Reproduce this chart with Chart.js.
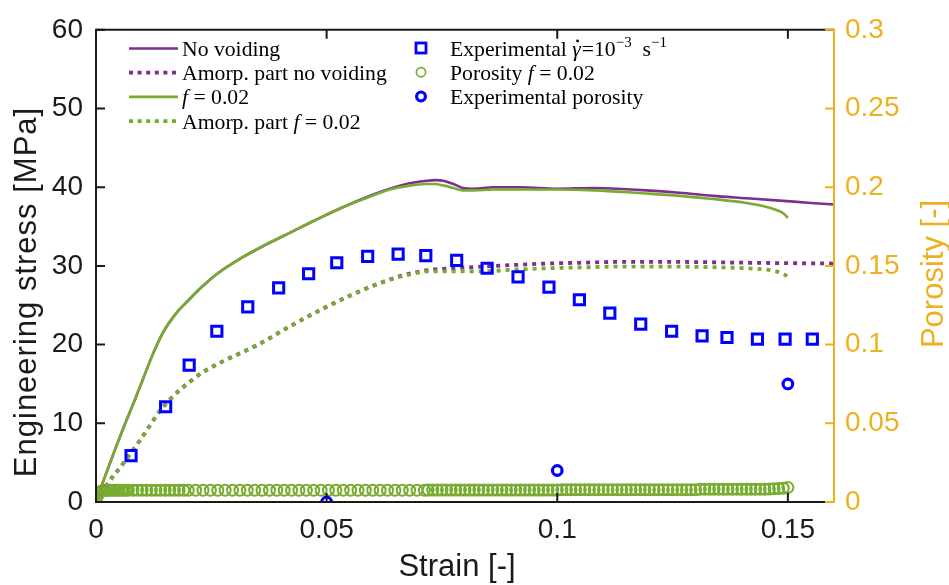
<!DOCTYPE html>
<html>
<head>
<meta charset="utf-8">
<script src="https://cdn.jsdelivr.net/npm/chart.js@4.4.1/dist/chart.umd.min.js"></script>
<style>
  html, body { margin: 0; padding: 0; background: #fff; }
  canvas { display: block; }
</style>
</head>
<body>
<canvas id="chart" width="949" height="585"></canvas>
<script>
// experimental stress-strain (squares)
const expStrain = [0.0076, 0.0151, 0.0202, 0.0262, 0.0329, 0.0396, 0.0461, 0.0522, 0.0589, 0.0655, 0.0715, 0.0782,
  0.0848, 0.0915, 0.0982, 0.1048, 0.1114, 0.1181, 0.1248, 0.1314, 0.1368, 0.1434, 0.1494, 0.1553];
const expStress = [5.9, 12.1, 17.4, 21.7, 24.8, 27.2, 29.0, 30.4, 31.2, 31.5, 31.3, 30.7,
  29.7, 28.6, 27.3, 25.7, 24.0, 22.6, 21.7, 21.1, 20.9, 20.7, 20.7, 20.7];

// experimental porosity (right axis)
const expPoroStrain = [0.05, 0.1, 0.15];
const expPoro = [0.0, 0.02, 0.075];

// simulation, no voiding
const nvStrain = [0, 0.001, 0.003, 0.006, 0.0085, 0.0103, 0.0122, 0.0138, 0.0152, 0.0165, 0.018, 0.02, 0.0225, 0.0265,
  0.0312, 0.0365, 0.042, 0.0475, 0.0529, 0.0585, 0.0637, 0.068, 0.0715, 0.0735, 0.0755, 0.0775, 0.0795, 0.082,
  0.086, 0.092, 0.1, 0.108, 0.1193, 0.1265, 0.1337, 0.141, 0.1482, 0.155, 0.16];
const nvStress = [0, 1.7, 4.9, 9.5, 13.1, 15.8, 18.6, 20.7, 22.2, 23.3, 24.4, 25.6, 27.1, 29.1,
  30.9, 32.6, 34.2, 35.8, 37.3, 38.7, 39.8, 40.5, 40.8, 40.9, 40.8, 40.4, 39.9, 39.8,
  40.0, 40.0, 39.8, 39.9, 39.6, 39.3, 38.9, 38.6, 38.3, 38.0, 37.8];
const nvAmStrain = [0, 0.002, 0.0059, 0.0095, 0.0139, 0.016, 0.0185, 0.0204, 0.0232, 0.0276, 0.0348, 0.042,
  0.0493, 0.0565, 0.0615, 0.0665, 0.0724, 0.078, 0.0832, 0.09, 0.0977, 0.105, 0.1121, 0.1266, 0.141, 0.15, 0.16];
const nvAmStress = [0, 1.9, 4.9, 7.8, 11.6, 13.0, 14.4, 15.3, 16.5, 17.9, 19.9, 22.3,
  24.6, 26.6, 27.8, 28.8, 29.5, 29.7, 29.9, 30.1, 30.3, 30.4, 30.5, 30.5, 30.4, 30.35, 30.3];

// simulation, f = 0.02
const fStrain = [0, 0.001, 0.003, 0.006, 0.0085, 0.0103, 0.0122, 0.0138, 0.0152, 0.0165, 0.018, 0.02, 0.0225, 0.0265,
  0.0312, 0.0365, 0.042, 0.0475, 0.0529, 0.0585, 0.0637, 0.068, 0.0715, 0.0735, 0.0755, 0.0775, 0.0795, 0.082,
  0.086, 0.092, 0.1, 0.108, 0.1193, 0.1265, 0.1337, 0.141, 0.1446, 0.1475, 0.149, 0.15];
const fStress = [0, 1.7, 4.9, 9.5, 13.1, 15.8, 18.6, 20.7, 22.2, 23.3, 24.4, 25.6, 27.1, 29.1,
  30.9, 32.6, 34.2, 35.8, 37.3, 38.6, 39.7, 40.2, 40.4, 40.4, 40.2, 39.9, 39.6, 39.6,
  39.7, 39.7, 39.7, 39.6, 39.2, 38.9, 38.5, 38.0, 37.6, 37.1, 36.7, 36.1];
const fAmStrain = [0, 0.002, 0.0059, 0.0095, 0.0139, 0.016, 0.0185, 0.0204, 0.0232, 0.0276, 0.0348, 0.042,
  0.0493, 0.0565, 0.0615, 0.0665, 0.0724, 0.078, 0.0832, 0.09, 0.0977, 0.105, 0.1121, 0.1266, 0.136, 0.141,
  0.1468, 0.1493, 0.15];
const fAmStress = [0, 1.9, 4.9, 7.8, 11.6, 13.0, 14.4, 15.3, 16.5, 17.9, 19.9, 22.3,
  24.6, 26.6, 27.8, 28.7, 29.3, 29.3, 29.3, 29.5, 29.7, 29.8, 29.9, 29.9, 29.8, 29.7,
  29.4, 28.9, 28.6];

// simulated porosity, f = 0.02 (right axis)
const poroStrain = [
  0, 0.0003, 0.0006, 0.001, 0.0015,
  0.002, 0.0025, 0.003, 0.0035, 0.004, 0.0045, 0.005, 0.0055, 0.006, 0.0065, 0.007,
  0.008, 0.009, 0.010, 0.011, 0.012, 0.013, 0.014, 0.015, 0.016, 0.017, 0.018, 0.019, 0.020,
  0.0216, 0.0232, 0.0248, 0.0264, 0.0280, 0.0296, 0.0312, 0.0328, 0.0344, 0.0360,
  0.0376, 0.0392, 0.0408, 0.0424, 0.0440, 0.0456, 0.0472, 0.0488, 0.0504, 0.0520,
  0.0536, 0.0552, 0.0568, 0.0584, 0.0600, 0.0616, 0.0632, 0.0648, 0.0664, 0.0680,
  0.0696, 0.0712,
  0.072, 0.073, 0.074, 0.075, 0.076, 0.077, 0.078, 0.079, 0.080, 0.081,
  0.082, 0.083, 0.084, 0.085, 0.086, 0.087, 0.088, 0.089, 0.090, 0.091,
  0.092, 0.093, 0.094, 0.095, 0.096, 0.097, 0.098, 0.099, 0.100,
  0.101, 0.102, 0.103, 0.104, 0.105, 0.106, 0.107, 0.108, 0.109, 0.110,
  0.111, 0.112, 0.113, 0.114, 0.115, 0.116, 0.117, 0.118, 0.119, 0.120,
  0.121, 0.122, 0.123, 0.124, 0.125, 0.126, 0.127, 0.128, 0.129, 0.130,
  0.131, 0.132, 0.133, 0.134, 0.135, 0.136, 0.137, 0.138, 0.139, 0.140,
  0.141, 0.142, 0.143, 0.144, 0.145,
  0.146, 0.147, 0.148, 0.149, 0.150];
const poroValue = [
  0.0015, 0.0035, 0.0055, 0.0067, 0.0072,
  0.0074, 0.0075, 0.0075, 0.0075, 0.0075, 0.0075, 0.0075, 0.0075, 0.0075, 0.0075, 0.0075,
  0.0075, 0.0075, 0.0075, 0.0075, 0.0075, 0.0075, 0.0075, 0.0075, 0.0075, 0.0075, 0.0075, 0.0075, 0.0075,
  0.0075, 0.0075, 0.0075, 0.0075, 0.0075, 0.0075, 0.0075, 0.0075, 0.0075, 0.0075,
  0.0075, 0.0075, 0.0075, 0.0075, 0.0075, 0.0075, 0.0075, 0.0075, 0.0075, 0.0075,
  0.0075, 0.0075, 0.0075, 0.0075, 0.0075, 0.0075, 0.0075, 0.0075, 0.0075, 0.0075,
  0.0075, 0.0075,
  0.0076, 0.0076, 0.0076, 0.0076, 0.0076, 0.0076, 0.0076, 0.0076, 0.0076, 0.0076,
  0.0076, 0.0076, 0.0076, 0.0076, 0.0076, 0.0076, 0.0076, 0.0076, 0.0076, 0.0076,
  0.0076, 0.0076, 0.0076, 0.0076, 0.0076, 0.0076, 0.0076, 0.0076, 0.0076,
  0.0078, 0.0078, 0.0078, 0.0078, 0.0078, 0.0078, 0.0078, 0.0078, 0.0078, 0.0078,
  0.0078, 0.0078, 0.0078, 0.0078, 0.0078, 0.0078, 0.0078, 0.0078, 0.0078, 0.0078,
  0.0078, 0.0078, 0.0078, 0.0078, 0.0078, 0.0078, 0.0078, 0.0078, 0.0078, 0.0078,
  0.0081, 0.0081, 0.0081, 0.0081, 0.0081, 0.0081, 0.0081, 0.0081, 0.0081, 0.0081,
  0.0081, 0.0081, 0.0081, 0.0081, 0.0081,
  0.0083, 0.0084, 0.0086, 0.0088, 0.0092];

const xTicks = [0, 0.05, 0.1, 0.15];

const PURPLE = "#7E2F8E";
const GREEN = "#77AC30";
const BLUE = "#0000FF";
const ORANGE = "#EDB120";
const AXIS = "#1a1a1a";
const SANS = "'Liberation Sans', Arial, sans-serif";
const SERIF = "'Liberation Serif', serif";

const pts = (xs, ys) => xs.map((x, i) => ({ x: x, y: ys[i] }));
const fmt = (v) => String(+Number(v).toFixed(3));

const lineSet = (label, xs, ys, color, dotted) => ({
  label: label,
  data: pts(xs, ys),
  showLine: true,
  borderColor: color,
  borderWidth: dotted ? 3.8 : 2.6,
  borderDash: dotted ? [4, 5] : [],
  borderCapStyle: "butt",
  pointRadius: 0,
  cubicInterpolationMode: "monotone",
  yAxisID: "y",
});

// legend rows, drawn as text runs: n = normal, i = italic, d = italic with dot above, s = superscript
const legendLeft = [
  { color: PURPLE, dotted: false, text: [["No voiding", "n"]] },
  { color: PURPLE, dotted: true, text: [["Amorp. part no voiding", "n"]] },
  { color: GREEN, dotted: false, text: [["f", "i"], [" = 0.02", "n"]] },
  { color: GREEN, dotted: true, text: [["Amorp. part ", "n"], ["f", "i"], [" = 0.02", "n"]] },
];
const legendRight = [
  { marker: "square", text: [["Experimental ", "n"], ["\u03B3", "d"], ["=10", "n"], ["\u22123", "s"], ["  s", "n"], ["\u22121", "s"]] },
  { marker: "ring", text: [["Porosity ", "n"], ["f", "i"], [" = 0.02", "n"]] },
  { marker: "bold", text: [["Experimental porosity", "n"]] },
];

function drawRuns(ctx, x, y, runs) {
  for (const [txt, st] of runs) {
    const size = st === "s" ? 15 : 21.7;
    ctx.font = (st === "i" || st === "d" ? "italic " : "") + size + "px " + SERIF;
    ctx.fillText(txt, x, st === "s" ? y - 9 : y);
    const w = ctx.measureText(txt).width;
    if (st === "d") {
      ctx.beginPath();
      ctx.arc(x + w * 0.62, y - 14.5, 1.4, 0, Math.PI * 2);
      ctx.fill();
      x += 1;
    }
    x += w;
  }
}

const decor = {
  id: "decor",
  afterDraw(chart) {
    const { ctx, chartArea: a, scales } = chart;
    ctx.save();
    ctx.lineCap = "butt";

    // axes box
    ctx.lineWidth = 2;
    ctx.strokeStyle = AXIS;
    ctx.beginPath();
    ctx.moveTo(a.right, a.top); ctx.lineTo(a.left, a.top);
    ctx.lineTo(a.left, a.bottom); ctx.lineTo(a.right, a.bottom);
    ctx.stroke();
    ctx.strokeStyle = ORANGE;
    ctx.beginPath(); ctx.moveTo(a.right, a.top - 1); ctx.lineTo(a.right, a.bottom + 1); ctx.stroke();

    // inward ticks
    const tl = 9;
    ctx.strokeStyle = AXIS;
    ctx.beginPath();
    scales.x.ticks.forEach((t) => {
      const px = scales.x.getPixelForValue(t.value);
      ctx.moveTo(px, a.bottom); ctx.lineTo(px, a.bottom - tl);
      ctx.moveTo(px, a.top); ctx.lineTo(px, a.top + tl);
    });
    scales.y.ticks.forEach((t) => {
      const py = scales.y.getPixelForValue(t.value);
      ctx.moveTo(a.left, py); ctx.lineTo(a.left + tl, py);
    });
    ctx.stroke();
    ctx.strokeStyle = ORANGE;
    ctx.beginPath();
    scales.y2.ticks.forEach((t) => {
      const py = scales.y2.getPixelForValue(t.value);
      ctx.moveTo(a.right, py); ctx.lineTo(a.right - tl, py);
    });
    ctx.stroke();

    // axis titles
    ctx.textAlign = "center";
    ctx.textBaseline = "middle";
    ctx.font = "31px " + SANS;
    ctx.fillStyle = AXIS;
    ctx.fillText("Strain [-]", 457, 567);
    ctx.save();
    ctx.translate(27, 292);
    ctx.rotate(-Math.PI / 2);
    ctx.letterSpacing = "1px";
    ctx.fillText("Engineering stress [MPa]", 0, 0);
    ctx.restore();
    ctx.save();
    ctx.fillStyle = ORANGE;
    ctx.translate(934, 274);
    ctx.rotate(-Math.PI / 2);
    ctx.fillText("Porosity [-]", 0, 0);
    ctx.restore();

    // legend
    ctx.textAlign = "left";
    ctx.textBaseline = "alphabetic";
    ctx.fillStyle = "#000";
    legendLeft.forEach((row, i) => {
      const ry = 48.5 + i * 24.2;
      ctx.strokeStyle = row.color;
      ctx.lineWidth = row.dotted ? 3.8 : 2.6;
      ctx.setLineDash(row.dotted ? [4, 4.6] : []);
      ctx.beginPath(); ctx.moveTo(129, ry); ctx.lineTo(178, ry); ctx.stroke();
      ctx.setLineDash([]);
      drawRuns(ctx, 182, ry + 7.5, row.text);
    });
    legendRight.forEach((row, i) => {
      const ry = 48 + i * 24.2;
      if (row.marker === "square") {
        ctx.strokeStyle = BLUE; ctx.lineWidth = 2.8;
        ctx.strokeRect(421 - 5, ry - 5, 10, 10);
      } else if (row.marker === "ring") {
        ctx.strokeStyle = GREEN; ctx.lineWidth = 1.7;
        ctx.beginPath(); ctx.arc(421, ry, 4.6, 0, Math.PI * 2); ctx.stroke();
      } else {
        ctx.strokeStyle = BLUE; ctx.lineWidth = 3.2;
        ctx.beginPath(); ctx.arc(421, ry, 4.4, 0, Math.PI * 2); ctx.stroke();
      }
      drawRuns(ctx, 450, ry + 7.5, row.text);
    });
    ctx.restore();
  },
};

const tickFont = { family: SANS, size: 28 };

new Chart(document.getElementById("chart"), {
  type: "scatter",
  data: {
    datasets: [
      {
        label: "Experimental",
        data: pts(expStrain, expStress),
        pointStyle: "rect",
        pointRadius: 7.2,
        borderWidth: 3,
        borderColor: BLUE,
        backgroundColor: "rgba(0,0,0,0)",
        yAxisID: "y",
      },
      {
        label: "Experimental porosity",
        data: pts(expPoroStrain, expPoro),
        pointStyle: "circle",
        pointRadius: 4.8,
        borderWidth: 3.2,
        borderColor: BLUE,
        backgroundColor: "rgba(0,0,0,0)",
        yAxisID: "y2",
      },
      lineSet("f = 0.02", fStrain, fStress, GREEN, false),
      lineSet("Amorp. part f = 0.02", fAmStrain, fAmStress, GREEN, true),
      lineSet("No voiding", nvStrain, nvStress, PURPLE, false),
      lineSet("Amorp. part no voiding", nvAmStrain, nvAmStress, PURPLE, true),
      {
        label: "Porosity f = 0.02",
        data: pts(poroStrain, poroValue),
        pointStyle: "circle",
        pointRadius: 5.5,
        borderWidth: 2,
        borderColor: GREEN,
        backgroundColor: "rgba(0,0,0,0)",
        yAxisID: "y2",
      },
    ],
  },
  options: {
    responsive: false,
    animation: false,
    events: [],
    layout: { padding: { top: 24, left: 0, right: 0, bottom: 0 } },
    plugins: { legend: { display: false }, tooltip: { enabled: false } },
    scales: {
      x: {
        type: "linear",
        min: 0,
        max: 0.16,
        afterFit: (s) => { s.height = 83; },
        afterBuildTicks: (s) => { s.ticks = xTicks.map((v) => ({ value: v })); },
        grid: { display: false, drawTicks: false },
        border: { display: false },
        ticks: { font: tickFont, color: AXIS, padding: 11, callback: fmt, maxRotation: 0 },
      },
      y: {
        position: "left",
        min: 0,
        max: 60,
        afterFit: (s) => { s.width = 96; },
        grid: { display: false, drawTicks: false },
        border: { display: false },
        ticks: { stepSize: 10, font: tickFont, color: AXIS, padding: 13 },
      },
      y2: {
        position: "right",
        min: 0,
        max: 0.3,
        afterFit: (s) => { s.width = 115; },
        grid: { display: false, drawTicks: false },
        border: { display: false },
        ticks: { stepSize: 0.05, font: tickFont, color: ORANGE, padding: 11, callback: fmt },
      },
    },
  },
  plugins: [decor],
});
</script>
</body>
</html>
